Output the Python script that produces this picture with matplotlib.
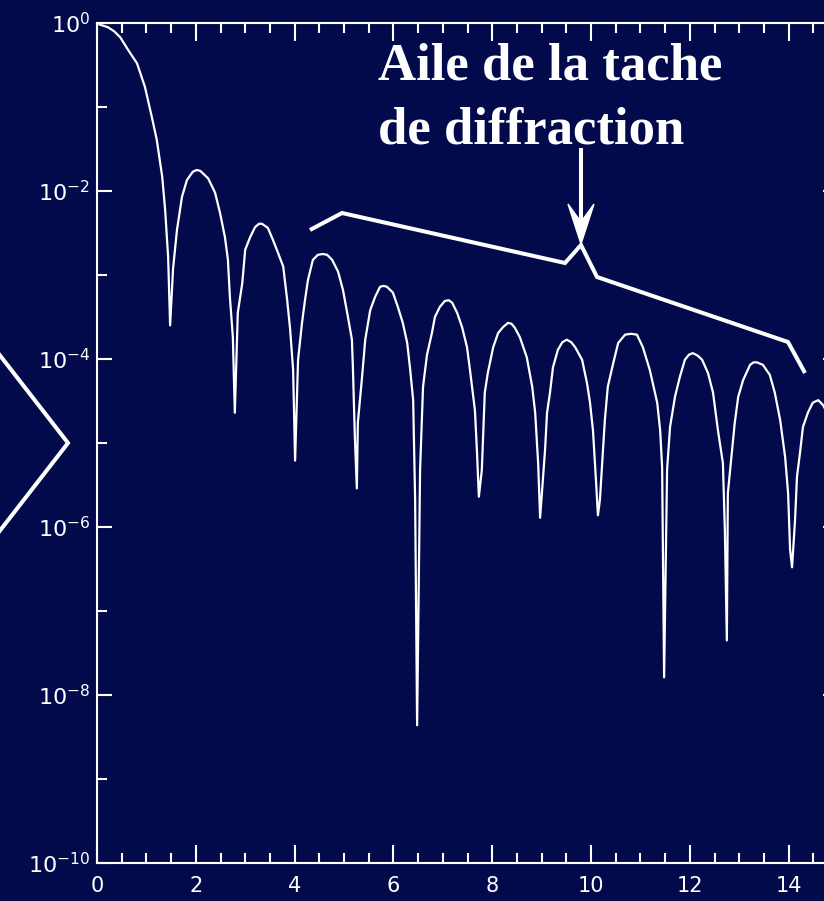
import matplotlib
matplotlib.use("Agg")
import matplotlib.pyplot as plt
from matplotlib.ticker import FixedLocator, NullFormatter, FixedFormatter
from matplotlib.patches import Polygon
import numpy as np

# ---- data (radius, log10 of normalised intensity) ----
radius = [
    0.00, 0.06, 0.22, 0.35, 0.47, 0.63, 0.81, 0.97, 1.11, 1.21, 1.32, 1.38, 1.44, 1.48,
    1.54, 1.62, 1.72, 1.82, 1.94, 2.02, 2.09, 2.25, 2.39, 2.49, 2.59, 2.65, 2.69, 2.75, 2.79,
    2.85, 2.94, 3.00, 3.10, 3.20, 3.28, 3.34, 3.46, 3.56, 3.66, 3.77, 3.85, 3.91, 3.97, 4.01,
    4.07, 4.15, 4.21, 4.27, 4.37, 4.47, 4.57, 4.66, 4.76, 4.88, 4.98, 5.08, 5.16, 5.18, 5.22, 5.26,
    5.28, 5.36, 5.43, 5.53, 5.63, 5.73, 5.80, 5.87, 5.99, 6.09, 6.19, 6.28, 6.34, 6.40, 6.44, 6.48,
    6.54, 6.60, 6.68, 6.78, 6.84, 6.94, 7.04, 7.12, 7.19, 7.29, 7.39, 7.49, 7.55, 7.65, 7.69, 7.73,
    7.79, 7.85, 7.91, 8.02, 8.12, 8.22, 8.32, 8.39, 8.46, 8.56, 8.70, 8.81, 8.87, 8.93, 8.97,
    9.07, 9.11, 9.17, 9.23, 9.33, 9.42, 9.51, 9.60, 9.68, 9.82, 9.92, 9.98, 10.04, 10.10, 10.14,
    10.18, 10.24, 10.28, 10.34, 10.45, 10.55, 10.69, 10.81, 10.93, 11.05, 11.19, 11.34, 11.40, 11.44, 11.48,
    11.54, 11.60, 11.70, 11.80, 11.90, 11.98, 12.06, 12.16, 12.25, 12.37, 12.47, 12.57, 12.67, 12.71, 12.75,
    12.77, 12.85, 12.91, 12.98, 13.08, 13.22, 13.29, 13.36, 13.48, 13.62, 13.72, 13.83, 13.93, 13.99, 14.03, 14.07,
    14.13, 14.17, 14.23, 14.29, 14.39, 14.49, 14.60, 14.70, 14.80,
]
log_intensity = [
    0.00, -0.02, -0.05, -0.10, -0.17, -0.32, -0.48, -0.76, -1.12, -1.39, -1.83, -2.23, -2.79, -3.60,
    -2.92, -2.46, -2.07, -1.87, -1.77, -1.75, -1.76, -1.85, -2.02, -2.26, -2.55, -2.82, -3.26, -3.74, -4.64,
    -3.45, -3.10, -2.70, -2.55, -2.43, -2.39, -2.39, -2.44, -2.58, -2.73, -2.90, -3.30, -3.65, -4.13, -5.21,
    -4.01, -3.57, -3.30, -3.06, -2.82, -2.76, -2.75, -2.76, -2.82, -2.96, -3.18, -3.50, -3.77, -4.10, -4.93, -5.54,
    -4.76, -4.25, -3.77, -3.42, -3.26, -3.14, -3.13, -3.14, -3.21, -3.38, -3.57, -3.81, -4.13, -4.49, -5.68, -8.36,
    -5.32, -4.33, -3.95, -3.69, -3.50, -3.38, -3.31, -3.30, -3.33, -3.45, -3.62, -3.86, -4.13, -4.61, -5.08, -5.64,
    -5.32, -4.40, -4.17, -3.86, -3.69, -3.62, -3.57, -3.58, -3.63, -3.74, -3.98, -4.33, -4.64, -5.24, -5.89,
    -5.08, -4.64, -4.40, -4.10, -3.89, -3.80, -3.77, -3.80, -3.86, -4.01, -4.29, -4.52, -4.85, -5.44, -5.86,
    -5.68, -5.12, -4.73, -4.33, -4.05, -3.81, -3.71, -3.70, -3.71, -3.86, -4.13, -4.52, -4.85, -5.29, -7.79,
    -5.32, -4.81, -4.45, -4.21, -4.01, -3.95, -3.93, -3.96, -4.01, -4.17, -4.40, -4.85, -5.24, -6.04, -7.35,
    -5.60, -5.12, -4.76, -4.45, -4.25, -4.07, -4.04, -4.04, -4.07, -4.19, -4.40, -4.73, -5.17, -5.60, -6.27, -6.48,
    -5.92, -5.40, -5.12, -4.81, -4.64, -4.52, -4.49, -4.55, -4.67,
]
x_ticks = [0, 2, 4, 6, 8, 10, 12, 14]
x_tick_labels = ["0", "2", "4", "6", "8", "10", "12", "14"]
x_minor_ticks = [0.5, 1.0, 1.5, 2.5, 3.0, 3.5, 4.5, 5.0, 5.5, 6.5, 7.0, 7.5, 8.5, 9.0, 9.5,
                 10.5, 11.0, 11.5, 12.5, 13.0, 13.5, 14.5]
y_major_exp = [0, -2, -4, -6, -8, -10]
y_minor_exp = [-1, -3, -5, -7, -9]
annotation_lines = ["Aile de la tache", "de diffraction"]

# ---- style ----
BG = "#020A4C"
W, H = 824, 901
plt.rcParams["mathtext.fontset"] = "dejavusans"

fig = plt.figure(figsize=(W / 100, H / 100), dpi=100, facecolor=BG)
ax = fig.add_axes([97 / W, 1 - 863 / H, (838 - 97) / W, 840 / H], facecolor=BG)

intensity = 10.0 ** np.array(log_intensity)
ax.plot(radius, intensity, color="white", lw=1.6)
ax.set_yscale("log")
ax.set_xlim(0, 15)
ax.set_ylim(1e-10, 1)

ax.xaxis.set_major_locator(FixedLocator(x_ticks))
ax.xaxis.set_major_formatter(FixedFormatter(x_tick_labels))
ax.xaxis.set_minor_locator(FixedLocator(x_minor_ticks))
ax.yaxis.set_major_locator(FixedLocator([10.0 ** e for e in y_major_exp]))
ax.yaxis.set_major_formatter(FixedFormatter([r"$10^{%d}$" % e for e in y_major_exp]))
ax.yaxis.set_minor_locator(FixedLocator([10.0 ** e for e in y_minor_exp]))
ax.yaxis.set_minor_formatter(NullFormatter())

for s in ax.spines.values():
    s.set_color("white")
    s.set_linewidth(1.5)

ax.tick_params(axis="x", which="major", direction="in", length=13, width=1.5,
               colors="white", top=True, labelsize=15, pad=9)
ax.tick_params(axis="x", which="minor", direction="in", length=7, width=1.5,
               colors="white", top=True)
ax.tick_params(axis="y", which="major", direction="in", length=11, width=1.5,
               colors="white", right=True, labelsize=16, pad=5)
ax.tick_params(axis="y", which="minor", direction="in", length=7, width=1.5,
               colors="white", right=True)

# ---- annotation overlay in pixel coordinates ----
ov = fig.add_axes([0, 0, 1, 1])
ov.set_xlim(0, W)
ov.set_ylim(H, 0)
ov.axis("off")
ov.patch.set_alpha(0)

ov.text(378, 79, annotation_lines[0], color="white", fontsize=38, fontweight="bold",
        family="Liberation Serif", va="baseline", ha="left")
ov.text(378, 143, annotation_lines[1], color="white", fontsize=38, fontweight="bold",
        family="Liberation Serif", va="baseline", ha="left")

bx = [310, 342, 565, 581, 597, 788, 805]
by = [230, 213, 263, 245, 277, 342, 373]
ov.plot(bx, by, color="white", lw=2.9, solid_joinstyle="miter", solid_capstyle="butt")

ov.plot([581, 581], [148, 222], color="white", lw=2.9, solid_capstyle="butt")
ov.add_patch(Polygon([[581, 244], [568, 204], [581, 222], [594, 204]], closed=True,
                     facecolor="white", edgecolor="white", lw=1.0))

ov.plot([-5, 68, -5], [349, 443, 537], color="white", lw=2.9, solid_joinstyle="miter")

fig.savefig("out.png", dpi=100, facecolor=BG)
